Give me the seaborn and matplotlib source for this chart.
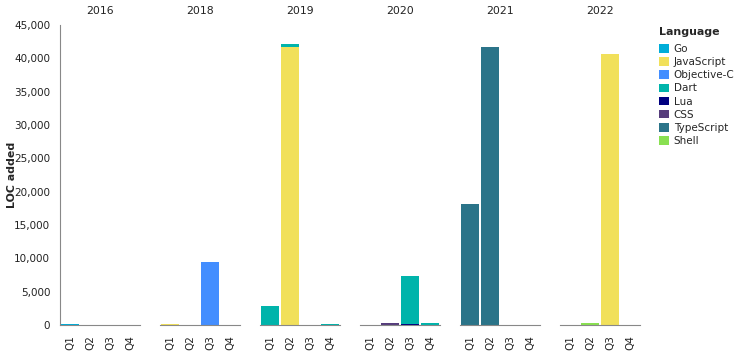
import numpy as np
import pandas as pd
import matplotlib
matplotlib.use("Agg")
import matplotlib.pyplot as plt
from matplotlib.patches import Patch
from matplotlib.ticker import FuncFormatter
import seaborn as sns

years = [2016, 2018, 2019, 2020, 2021, 2022]
quarters = ["Q1", "Q2", "Q3", "Q4"]
languages = ["Go", "JavaScript", "Objective-C", "Dart", "Lua", "CSS", "TypeScript", "Shell"]
colors = ["#00ADD8", "#F1E05A", "#438EFF", "#00B4AB", "#000080", "#563D7C", "#2B7489", "#89E051"]

# LOC added per quarter, one list per language, years in order above (4 quarters each)
#              2016             2018              2019               2020              2021                 2022
go          = [200, 0, 0, 0,    0, 0, 0, 0,       0, 0, 0, 0,        0, 0, 0, 0,       0, 0, 0, 0,          0, 0, 0, 0]
javascript  = [0, 0, 0, 0,      200, 0, 0, 0,     0, 41700, 0, 0,    0, 0, 0, 0,       0, 0, 0, 0,          0, 0, 40650, 0]
objective_c = [0, 0, 0, 0,      0, 0, 9400, 0,    0, 0, 0, 0,        0, 0, 0, 0,       0, 0, 0, 0,          0, 0, 0, 0]
dart        = [0, 0, 0, 0,      0, 0, 0, 0,       2850, 450, 0, 200, 0, 0, 7150, 300,  0, 0, 0, 0,          0, 0, 0, 0]
lua         = [0, 0, 0, 0,      0, 0, 0, 0,       0, 0, 0, 0,        0, 0, 200, 0,     0, 0, 0, 0,          0, 0, 0, 0]
css         = [0, 0, 0, 0,      0, 0, 0, 0,       0, 0, 0, 0,        0, 250, 0, 0,     0, 0, 0, 0,          0, 0, 0, 0]
typescript  = [0, 0, 0, 0,      0, 0, 0, 0,       0, 0, 0, 0,        0, 0, 0, 0,       18100, 41700, 0, 0,  0, 0, 0, 0]
shell       = [0, 0, 0, 0,      0, 0, 0, 0,       0, 0, 0, 0,        0, 0, 0, 0,       0, 0, 0, 0,          0, 300, 0, 0]

series = [go, javascript, objective_c, dart, lua, css, typescript, shell]
rows = []
for lang, vals in zip(languages, series):
    for i, v in enumerate(vals):
        rows.append({"year": years[i // 4], "quarter": quarters[i % 4],
                     "Language": lang, "loc": v})
df = pd.DataFrame(rows)
palette = dict(zip(languages, colors))
# histplot stacks the first hue level on top
stack_order = ["Dart", "JavaScript", "Lua", "CSS", "Shell", "TypeScript", "Objective-C", "Go"]

sns.set_style("white")
plt.rcParams["font.family"] = ["DejaVu Sans"]
W, H = 737, 351
fig = plt.figure(figsize=(W / 100, H / 100), dpi=100)
axis_col = "#888888"

for k, yr in enumerate(years):
    left = 60 + k * 100
    ax = fig.add_axes([left / W, 1 - 325 / H, 80 / W, 300 / H])
    d = df[df["year"] == yr]
    sns.histplot(data=d, x="quarter", weights="loc", hue="Language",
                 hue_order=stack_order, palette=palette, multiple="stack",
                 discrete=True, shrink=0.9, alpha=1, linewidth=0,
                 legend=False, ax=ax)
    ax.set_xlim(-0.5, 3.5)
    ax.set_ylim(0, 45000)
    ax.set_xticks(range(4))
    ax.set_xticklabels(quarters, rotation=90, fontsize=7.5, color="#222222")
    ax.set_xlabel("")
    ax.set_title(str(yr), fontsize=7.8, pad=8, color="#222222")
    for s in ["top", "right"]:
        ax.spines[s].set_visible(False)
    ax.spines["bottom"].set_color(axis_col)
    ax.tick_params(axis="x", length=5, width=0.8, color=axis_col, pad=2)
    if k == 0:
        ax.spines["left"].set_color(axis_col)
        ax.set_yticks(np.arange(0, 45001, 5000))
        ax.yaxis.set_major_formatter(FuncFormatter(lambda v, p: f"{int(v):,}"))
        ax.tick_params(axis="y", length=5, width=0.8, color=axis_col, labelsize=7.5,
                       labelcolor="#222222", pad=2)
        ax.set_ylabel("LOC added", fontsize=7.9, fontweight="bold")
        ax.yaxis.set_label_coords(-0.54, 0.5)
    else:
        ax.spines["left"].set_visible(False)
        ax.set_yticks([])
        ax.set_ylabel("")

handles = [Patch(facecolor=palette[l], edgecolor="none", label=l) for l in languages]
leg = fig.legend(handles=handles, title="Language", loc="upper left",
                 bbox_to_anchor=(655 / W, 1 - 23 / H), frameon=False,
                 fontsize=7.5, title_fontsize=7.9, handlelength=0.9, handleheight=0.9,
                 handletextpad=0.5, labelspacing=0.3, borderaxespad=0, alignment="left")
leg.get_title().set_fontweight("bold")
leg._legend_box.sep = 5

fig.savefig("out.png", dpi=100)
